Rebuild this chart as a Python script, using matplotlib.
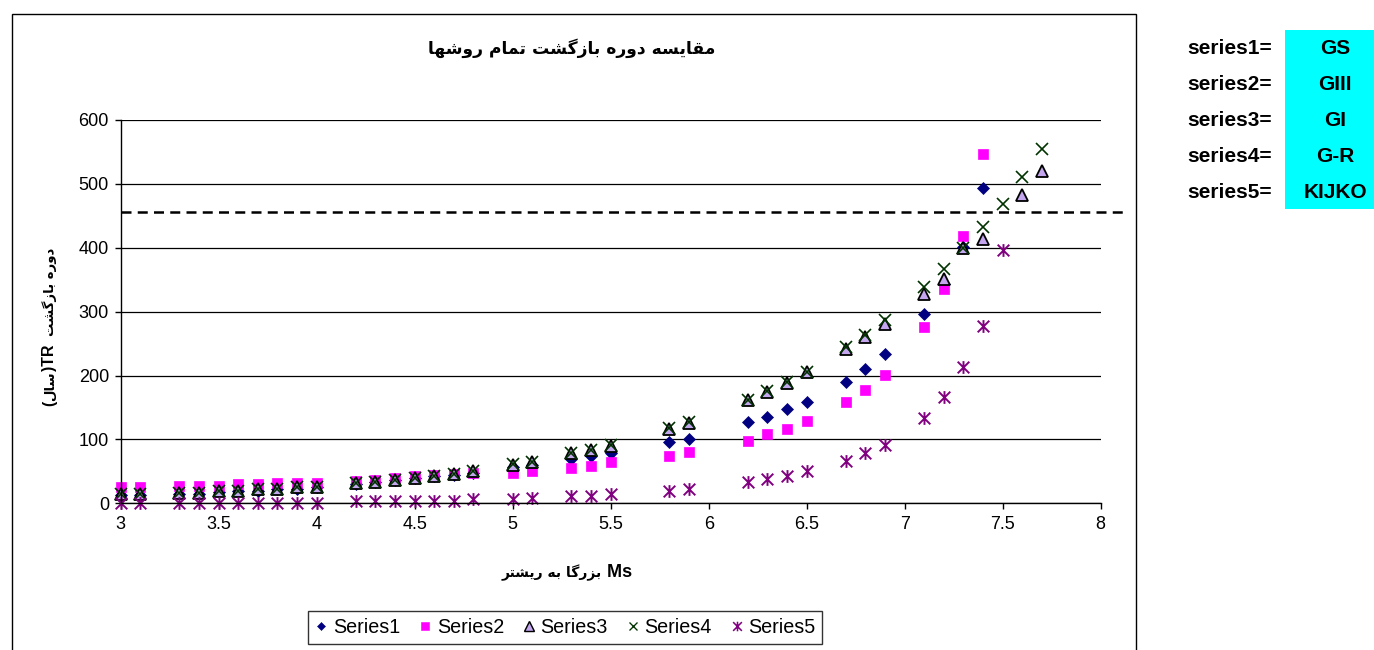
import matplotlib
matplotlib.use("Agg")
import matplotlib.pyplot as plt
from matplotlib.path import Path
from matplotlib.patches import Rectangle
from matplotlib.lines import Line2D

# ---------------- data ----------------
ms_main = [3.0, 3.1, 3.3, 3.4, 3.5, 3.6, 3.7, 3.8, 3.9, 4.0,
           4.2, 4.3, 4.4, 4.5, 4.6, 4.7, 4.8, 5.0, 5.1, 5.3,
           5.4, 5.5, 5.8, 5.9, 6.2, 6.3, 6.4, 6.5, 6.7, 6.8,
           6.9, 7.1, 7.2, 7.3, 7.4]

series1 = [13, 13, 15, 15, 17, 19, 20, 22, 23, 25,
           30, 33, 36, 39, 42, 45, 48, 57, 60, 70,
           74, 79, 96, 101, 127, 135, 148, 159, 190, 210,
           233, 297, 343, 401, 493]

series2 = [25, 25, 27, 27, 27, 30, 30, 32, 32, 32,
           35, 37, 40, 42, 44, 46, 47, 48, 51, 56,
           59, 64, 74, 80, 97, 108, 117, 129, 158, 178,
           201, 276, 335, 418, 547]

ms_s3 = ms_main + [7.6, 7.7]
series3 = [14, 14, 16, 16, 19, 20, 22, 23, 25, 26,
           31, 34, 37, 40, 43, 46, 50, 60, 64, 78,
           83, 90, 116, 125, 161, 174, 189, 205, 242, 260,
           281, 327, 351, 400, 413, 482, 520]

ms_s4 = ms_main + [7.5, 7.6, 7.7]
series4 = [14, 14, 16, 16, 19, 20, 22, 23, 25, 26,
           31, 34, 37, 40, 43, 46, 50, 61, 65, 79,
           84, 92, 118, 127, 162, 176, 190, 206, 244, 263,
           287, 338, 366, 399, 432, 469, 510, 554]

ms_s5 = ms_main + [7.5]
series5 = [0, 0, 1, 1, 1, 1, 1, 1, 1, 1,
           3, 4, 4, 4, 4, 4, 6, 7, 9, 12,
           12, 15, 20, 22, 33, 38, 43, 51, 66, 79,
           91, 133, 167, 213, 277, 396]

reference_level = 456

series_names = ["Series1", "Series2", "Series3", "Series4", "Series5"]
method_keys = ["series1=", "series2=", "series3=", "series4=", "series5="]
method_names = ["GS", "GIII", "GI", "G-R", "KIJKO"]

# ---------------- Persian shaping ----------------
FORMS = {
    # letter: (isolated, final, initial, medial)
    "ا": ("\uFE8D", "\uFE8E", None, None),
    "ب": ("\uFE8F", "\uFE90", "\uFE91", "\uFE92"),
    "ت": ("\uFE95", "\uFE96", "\uFE97", "\uFE98"),
    "د": ("\uFEA9", "\uFEAA", None, None),
    "ر": ("\uFEAD", "\uFEAE", None, None),
    "ز": ("\uFEAF", "\uFEB0", None, None),
    "س": ("\uFEB1", "\uFEB2", "\uFEB3", "\uFEB4"),
    "ش": ("\uFEB5", "\uFEB6", "\uFEB7", "\uFEB8"),
    "ق": ("\uFED5", "\uFED6", "\uFED7", "\uFED8"),
    "ل": ("\uFEDD", "\uFEDE", "\uFEDF", "\uFEE0"),
    "م": ("\uFEE1", "\uFEE2", "\uFEE3", "\uFEE4"),
    "ه": ("\uFEE9", "\uFEEA", "\uFEEB", "\uFEEC"),
    "و": ("\uFEED", "\uFEEE", None, None),
    "گ": ("\uFB92", "\uFB93", "\uFB94", "\uFB95"),
    "ی": ("\uFBFC", "\uFBFD", "\uFBFE", "\uFBFF"),
}


def dual(ch):
    return ch in FORMS and FORMS[ch][2] is not None


def shape_word(word):
    """Return the visual (left-to-right) glyph string of one Persian word."""
    out = []
    for i, ch in enumerate(word):
        prev_joins = i > 0 and dual(word[i - 1])
        next_joins = dual(ch) and i + 1 < len(word) and word[i + 1] in FORMS
        iso, fin, ini, med = FORMS[ch]
        if prev_joins and next_joins:
            g = med
        elif prev_joins:
            g = fin
        elif next_joins:
            g = ini
        else:
            g = iso
        out.append(g)
    return "".join(reversed(out))


def rtl(phrase):
    """Visual string of a right-to-left phrase."""
    return " ".join(shape_word(w) for w in reversed(phrase.split()))


# ---------------- figure ----------------
W, H = 1374, 650
fig = plt.figure(figsize=(W / 100, H / 100), dpi=100)
fig.patch.set_facecolor("white")


def fx(px):
    return px / W


def fy(py):
    return 1 - py / H


FA = dict(family="DejaVu Sans", fontweight="bold")
LA = dict(family="Liberation Sans", fontweight="bold")


def place_runs(runs, cx, cy, vertical=False):
    """Lay out differently styled text runs one after another, centred on (cx, cy).

    Horizontal runs go left to right with cy as the baseline; vertical runs go
    bottom to top with cx as the baseline."""
    renderer = fig.canvas.get_renderer()
    widths = []
    for txt, kw in runs:
        t = fig.text(0, 0, txt, **kw)
        widths.append(t.get_window_extent(renderer).width)
        t.remove()
    pos = -sum(widths) / 2
    for (txt, kw), w in zip(runs, widths):
        if vertical:
            fig.text(fx(cx), fy(cy - pos), txt, rotation=90, rotation_mode="anchor",
                     ha="left", va="baseline", **kw)
        else:
            fig.text(fx(cx + pos), fy(cy), txt, ha="left", va="baseline", **kw)
        pos += w


ax_l, ax_r, ax_t, ax_b = 120.7, 1100.7, 120.0, 503.3
ax = fig.add_axes([fx(ax_l), fy(ax_b), fx(ax_r) - fx(ax_l), fy(ax_t) - fy(ax_b)])
ax.set_xlim(3, 8)
ax.set_ylim(0, 600)
ax.set_xticks([3, 3.5, 4, 4.5, 5, 5.5, 6, 6.5, 7, 7.5, 8])
ax.set_xticklabels(["3", "3.5", "4", "4.5", "5", "5.5", "6", "6.5", "7", "7.5", "8"])
ax.set_yticks(range(0, 601, 100))
for s in ["top", "right"]:
    ax.spines[s].set_visible(False)
for s in ["left", "bottom"]:
    ax.spines[s].set_color("black")
    ax.spines[s].set_linewidth(1.0)
ax.tick_params(direction="out", length=4.5, width=1.0, colors="black",
               labelsize=13)
ax.tick_params(axis="y", pad=4)
ax.tick_params(axis="x", pad=5)
for lab in ax.get_xticklabels() + ax.get_yticklabels():
    lab.set_fontfamily("Liberation Sans")
ax.set_axisbelow(True)
ax.yaxis.grid(True, color="black", linewidth=0.9)

# reference return-period level
ax.axhline(reference_level, color="black", linewidth=1.8, linestyle=(0, (4, 2.5)),
           xmax=1.025, clip_on=False)

star = Path([(-1, -1), (1, 1), (-1, 1), (1, -1), (0, -1.1), (0, 1.1)],
            [Path.MOVETO, Path.LINETO, Path.MOVETO, Path.LINETO, Path.MOVETO, Path.LINETO])

styles = [
    dict(marker="D", ms=5.8, mfc="#000080", mec="#000080", mew=0.5),
    dict(marker="s", ms=6.8, mfc="#FF00FF", mec="#FF00FF", mew=0.5),
    dict(marker="^", ms=8.8, mfc="#C3A6EE", mec="black", mew=1.3),
    dict(marker="x", ms=8.0, mfc="none", mec="#003300", mew=1.2),
    dict(marker=star, ms=9.2, mfc="none", mec="#800080", mew=1.4),
]
data = [(ms_main, series1), (ms_main, series2), (ms_s3, series3),
        (ms_s4, series4), (ms_s5, series5)]

handles = []
for (xs, ys), st, name in zip(data, styles, series_names):
    ax.plot(xs, ys, linestyle="none", clip_on=False, label=name, **st)
    handles.append(Line2D([], [], linestyle="none", marker=st["marker"],
                          ms=st["ms"] * 0.75, mfc=st["mfc"], mec=st["mec"],
                          mew=st["mew"] * 0.8))

# ---------------- text ----------------
fig.text(fx(572), fy(48), rtl("مقایسه دوره بازگشت تمام روشها"), ha="center",
         va="center", fontsize=12.3, **FA)

place_runs([(rtl("بزرگا به ریشتر"), dict(fontsize=10, **FA)),
            (" Ms", dict(fontsize=13, **LA))], 567, 577)

place_runs([("(", dict(fontsize=11.5, **LA)),
            (shape_word("سال"), dict(fontsize=9.5, **FA)),
            (")TR  ", dict(fontsize=11.5, **LA)),
            (rtl("دوره بازگشت"), dict(fontsize=9.5, **FA))],
           54, 327, vertical=True)

leg = fig.legend(handles, series_names, loc="center", ncol=5,
                 bbox_to_anchor=(fx(565), fy(627.5)), frameon=True, fancybox=False,
                 edgecolor="black", prop={"family": "Liberation Sans", "size": 14.2},
                 handlelength=0.7, handletextpad=0.25, columnspacing=0.9,
                 borderpad=0.35, numpoints=1)
leg.get_frame().set_linewidth(1.0)

# chart border
fig.patches.append(Rectangle((fx(12), fy(660)), fx(1136) - fx(12), fy(14) - fy(660),
                             transform=fig.transFigure, fill=False,
                             edgecolor="black", linewidth=1.0))

# method key table
cell_top, cell_h = 30, 35.8
fig.patches.append(Rectangle((fx(1285), fy(cell_top + 5 * cell_h)), fx(1374) - fx(1285),
                             5 * cell_h / H, transform=fig.transFigure,
                             facecolor="#00FFFF", edgecolor="none"))
for i, (k, v) in enumerate(zip(method_keys, method_names)):
    yc = cell_top + cell_h * (i + 0.5) + 1
    fig.text(fx(1272), fy(yc), k, ha="right", va="center", fontsize=15, **LA)
    fig.text(fx(1335), fy(yc), v, ha="center", va="center", fontsize=15, **LA)

fig.savefig("out.png", dpi=100)
